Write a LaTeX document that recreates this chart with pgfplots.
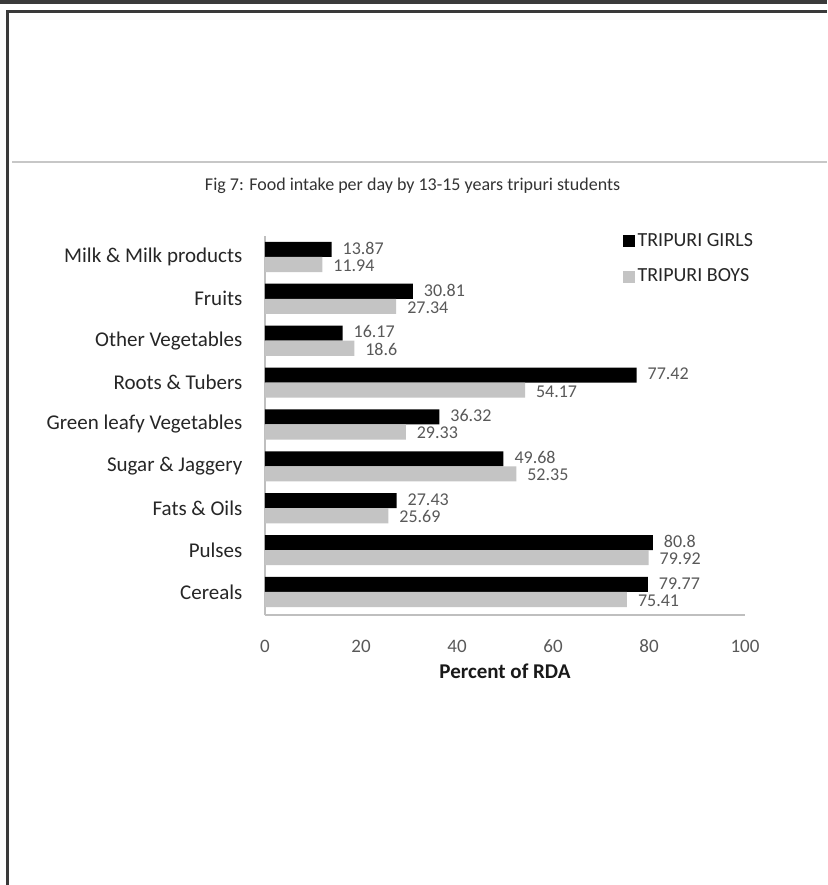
\documentclass[border=0pt]{standalone}
\usepackage{pgfplots}
\pgfplotsset{compat=1.18}
\usepackage{pgfplotstable}
\usepackage{fontspec}
\setmainfont{Carlito}

\definecolor{boysgrey}{HTML}{C4C4C4}
\definecolor{labelgrey}{HTML}{595959}
\definecolor{axisgrey}{HTML}{BFBFBF}
\definecolor{framedark}{HTML}{3A3A3A}

% Percent of RDA per food group; pos 8 = top row
\pgfplotstableread{
pos girls boys
8 13.87 11.94
7 30.81 27.34
6 16.17 18.6
5 77.42 54.17
4 36.32 29.33
3 49.68 52.35
2 27.43 25.69
1 80.8 79.92
0 79.77 75.41
}\intake

\begin{document}
\begin{tikzpicture}
% page frame
\useasboundingbox (0,0) rectangle (413.5pt,-442.5pt);
\fill[white] (0,0) rectangle (413.5pt,-442.5pt);
\draw[framedark, line width=2pt] (0,-1.2pt) -- (413.5pt,-1.2pt);
\draw[framedark, line width=1.5pt] (3pt,-5.5pt) -- (413.5pt,-5.5pt);
\draw[framedark, line width=1.5pt] (3.6pt,-5.5pt) -- (3.6pt,-442.5pt);
\draw[black!22, line width=1pt] (6pt,-81pt) -- (413.5pt,-81pt);

% caption
\node[font=\fontsize{9}{11}\selectfont, text=black!80] at (206.3pt,-93pt)
  {Fig 7: Food intake per day by 13-15 years tripuri students};

\begin{axis}[
  at={(132.5pt,-307.5pt)}, anchor=south west,
  scale only axis, width=240pt, height=189.5pt,
  xbar, bar width=0.36,
  xmin=0, xmax=100, ymin=-0.55, ymax=8.5,
  xtick={0,20,40,60,80,100}, xticklabels={0,20,40,60,80,100},
  ytick={0,...,8},
  yticklabels={Cereals,Pulses,Fats \& Oils,Sugar \& Jaggery,Green leafy Vegetables,Roots \& Tubers,Other Vegetables,Fruits,Milk \& Milk products},
  major tick length=0pt,
  axis x line*=bottom, axis y line*=left,
  axis line style={-, draw=axisgrey, line width=0.8pt},
  xticklabel style={font=\fontsize{9.5}{11}\selectfont, text=labelgrey,
    anchor=north, text height=6.5pt, text depth=0pt, yshift=-8.5pt},
  yticklabel style={font=\fontsize{10.5}{12}\selectfont, text=black!85, xshift=-7.8pt},
  xlabel={Percent of RDA},
  xlabel style={font=\bfseries\fontsize{10.5}{12}\selectfont, text=black!90,
    at={(axis description cs:0.5,0)}, anchor=center, yshift=-28pt},
  nodes near coords, point meta=explicit symbolic,
  nodes near coords style={font=\fontsize{9}{10}\selectfont, text=labelgrey, anchor=west,
    xshift=2pt, inner ysep=0.5pt},
  legend style={draw=none, fill=none, at={(0.733,1.03)}, anchor=north west,
    font=\fontsize{10}{12}\selectfont, text=black!85, row sep=6pt,
    nodes={inner xsep=1.2pt}},
  legend cell align=left,
]
\addplot[fill=black, draw=none, bar shift=0.18,
  nodes near coords style={yshift=0.6pt},
  legend image code/.code={\fill[black] (0pt,-3pt) rectangle (6pt,3pt);}]
  table[x=girls, y=pos, meta=girls] {\intake};
\addplot[fill=boysgrey, draw=none, bar shift=-0.18,
  nodes near coords style={yshift=-0.6pt},
  legend image code/.code={\fill[boysgrey] (0pt,-3pt) rectangle (6pt,3pt);}]
  table[x=boys, y=pos, meta=boys] {\intake};
\legend{TRIPURI GIRLS, TRIPURI BOYS}
\end{axis}
\end{tikzpicture}
\end{document}
